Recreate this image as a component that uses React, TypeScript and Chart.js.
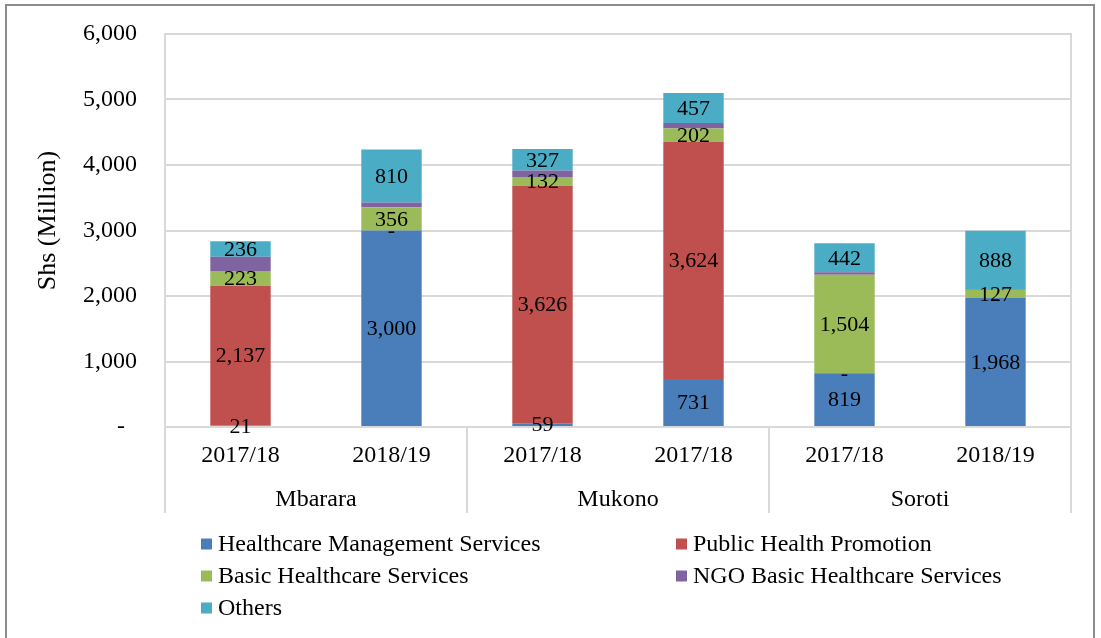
import React, { useEffect, useRef } from "react";
import { Chart, registerables } from "chart.js";

Chart.register(...registerables);

const years = ["2017/18", "2018/19", "2017/18", "2017/18", "2017/18", "2018/19"];
const districts = ["Mbarara", "Mukono", "Soroti"];
const seriesNames = [
  "Healthcare Management Services",
  "Public Health Promotion",
  "Basic Healthcare Services",
  "NGO Basic Healthcare Services",
  "Others",
];
const healthcareMgmt = [21, 3000, 59, 731, 819, 1968];
const publicHealth = [2137, 0, 3626, 3624, 0, 0];
const basicHealthcare = [223, 356, 132, 202, 1504, 127];
const ngoBasic = [220, 70, 100, 85, 40, 12];
const others = [236, 810, 327, 457, 442, 888];
const yTicks = [0, 1000, 2000, 3000, 4000, 5000, 6000];
const yTitle = "Shs (Million)";

const colors = ["#4a7ebb", "#c0504d", "#9bbb59", "#8064a2", "#4bacc6"];
const showLabel = [true, true, true, false, true];
const FONT = "'Liberation Serif', 'Times New Roman', serif";

const fmt = (v: number) => (v === 0 ? "-" : v.toLocaleString("en-US"));

const decorPlugin = {
  id: "decor",
  beforeDraw(chart: any) {
    const { ctx, chartArea } = chart;
    ctx.save();
    ctx.strokeStyle = "#d9d9d9";
    ctx.lineWidth = 2;
    ctx.strokeRect(chartArea.left, chartArea.top, chartArea.right - chartArea.left, chartArea.bottom - chartArea.top);
    ctx.restore();
  },
  afterDraw(chart: any) {
    const { ctx, chartArea } = chart;
    const x2 = chart.scales.x2;
    ctx.save();
    ctx.strokeStyle = "#d9d9d9";
    ctx.lineWidth = 2;
    const n = districts.length;
    const w = (chartArea.right - chartArea.left) / n;
    for (let i = 0; i <= n; i++) {
      const x = Math.round(chartArea.left + i * w);
      ctx.beginPath();
      ctx.moveTo(x, chartArea.bottom);
      ctx.lineTo(x, x2.bottom);
      ctx.stroke();
    }
    // y-axis title
    ctx.save();
    ctx.translate(48, (chartArea.top + chartArea.bottom) / 2 - 10);
    ctx.rotate(-Math.PI / 2);
    ctx.font = `26px ${FONT}`;
    ctx.fillStyle = "#000";
    ctx.textAlign = "center";
    ctx.textBaseline = "middle";
    ctx.fillText(yTitle, 0, 0);
    ctx.restore();
    // legend
    const cols = [201, 676];
    const rows = [544, 576, 608];
    ctx.font = `24px ${FONT}`;
    ctx.textBaseline = "middle";
    ctx.textAlign = "left";
    seriesNames.forEach((name, i) => {
      const cx = cols[i % 2];
      const cy = rows[Math.floor(i / 2)];
      ctx.fillStyle = colors[i];
      ctx.fillRect(cx, cy - 5.5, 11, 11);
      ctx.fillStyle = "#000";
      ctx.fillText(name, cx + 17, cy + 1);
    });
    ctx.restore();
  },
  afterDatasetsDraw(chart: any) {
    const { ctx } = chart;
    ctx.save();
    ctx.font = `22px ${FONT}`;
    ctx.fillStyle = "#000";
    ctx.textAlign = "center";
    ctx.textBaseline = "middle";
    chart.data.datasets.forEach((ds: any, di: number) => {
      if (!showLabel[di]) return;
      const meta = chart.getDatasetMeta(di);
      meta.data.forEach((el: any, i: number) => {
        const v = ds.data[i];
        const y = (el.y + el.base) / 2;
        ctx.fillText(fmt(v), el.x, y + 1);
      });
    });
    ctx.restore();
  },
};

export default function App() {
  const ref = useRef<HTMLCanvasElement | null>(null);
  useEffect(() => {
    if (!ref.current) return;
    const seriesData = [healthcareMgmt, publicHealth, basicHealthcare, ngoBasic, others];
    const chart = new Chart(ref.current, {
      type: "bar",
      data: {
        labels: years,
        datasets: seriesNames.map((name, i) => ({
          label: name,
          data: seriesData[i],
          backgroundColor: colors[i],
          barPercentage: 0.4,
          categoryPercentage: 1,
        })),
      },
      options: {
        animation: false,
        responsive: false,
        maintainAspectRatio: false,
        layout: { padding: { left: 34, right: 30, top: 34, bottom: 125 } },
        plugins: { legend: { display: false }, tooltip: { enabled: false } },
        scales: {
          x: {
            stacked: true,
            weight: 0,
            afterFit: (s: any) => {
              s.height = 44;
            },
            grid: { display: false, drawTicks: false },
            border: { display: false },
            ticks: { color: "#000", font: { family: FONT, size: 24 }, padding: 14, maxRotation: 0, autoSkip: false },
          },
          x2: {
            type: "category",
            position: "bottom",
            labels: districts,
            weight: 1,
            afterFit: (s: any) => {
              s.height = 42;
            },
            grid: { display: false, drawTicks: false },
            border: { display: false },
            ticks: { color: "#000", font: { family: FONT, size: 24 }, padding: 14, maxRotation: 0 },
          },
          y: {
            stacked: true,
            min: 0,
            max: 6000,
            afterFit: (s: any) => {
              s.width = 131;
            },
            afterBuildTicks: (s: any) => {
              s.ticks = yTicks.map((v) => ({ value: v }));
            },
            grid: { color: "#d9d9d9", lineWidth: 2, drawTicks: true, tickLength: 28, tickColor: "rgba(0,0,0,0)" },
            border: { display: false },
            ticks: {
              color: "#000",
              font: { family: FONT, size: 24 },
              padding: 0,
              callback: (v: any) => (Number(v) === 0 ? "-  " : Number(v).toLocaleString("en-US")),
            },
            title: { display: false },
          },
        },
      },
      plugins: [decorPlugin],
    } as any);
    return () => chart.destroy();
  }, []);

  return (
    <div style={{ position: "absolute", left: 0, top: 0, width: 1101, height: 638, overflow: "hidden", background: "#fff" }}>
      <div
        style={{
          position: "absolute",
          left: 5,
          top: 4,
          width: 1090,
          height: 650,
          border: "2px solid #8c8c8c",
          boxSizing: "border-box",
        }}
      />
      <canvas ref={ref} width={1101} height={638} style={{ position: "absolute", left: 0, top: 0 }} />
    </div>
  );
}
